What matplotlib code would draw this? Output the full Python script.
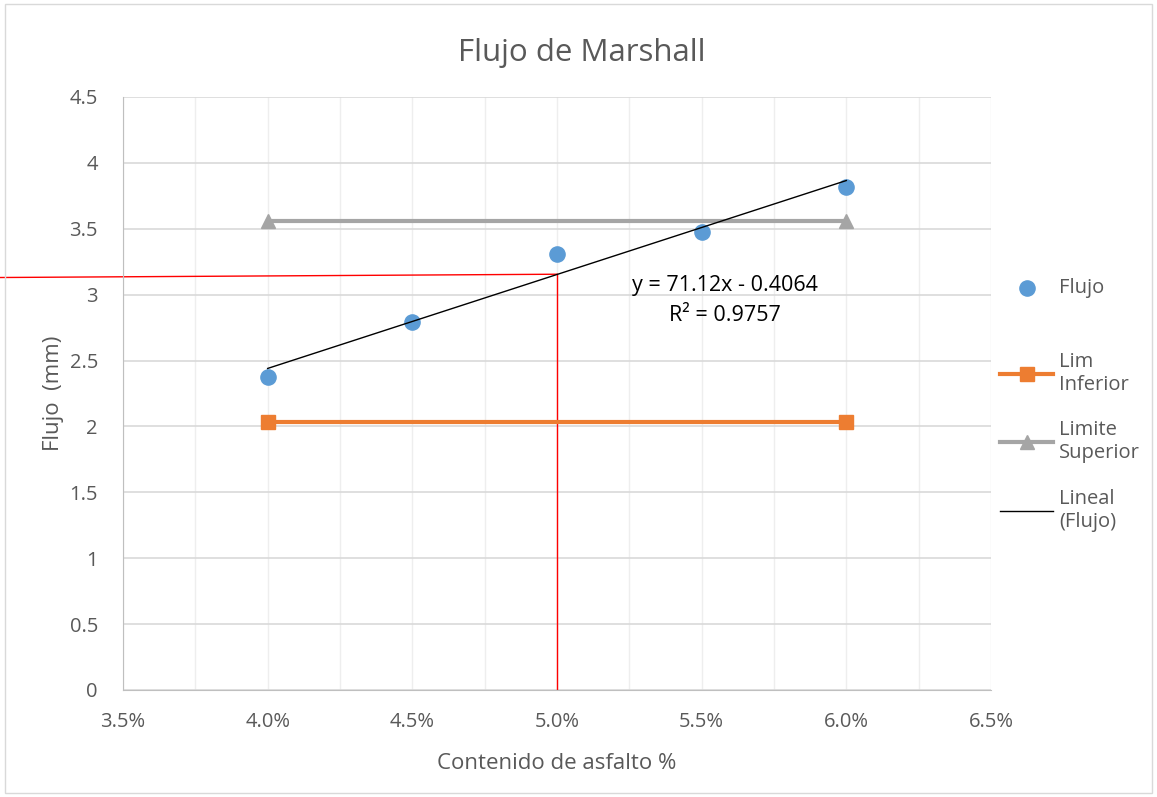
import numpy as np
import matplotlib.pyplot as plt
from matplotlib.patches import Rectangle
from matplotlib.ticker import FuncFormatter, MultipleLocator

plt.rcParams['font.family'] = ['Open Sans', 'DejaVu Sans']

# data
asfalto = [0.040, 0.045, 0.050, 0.055, 0.060]
flujo = [2.375, 2.79, 3.31, 3.475, 3.815]
lim_x = [0.040, 0.060]
lim_inf = [2.03, 2.03]
lim_sup = [3.56, 3.56]
x_opt = 0.050
guide_x = [0.0307, 0.050]
guide_y = [3.13, 3.155]
eq_text = "y = 71.12x - 0.4064"
r2_text = "R² = 0.9757"

txt_col = "#595959"

fig = plt.figure(figsize=(11.57, 7.97), dpi=100)
ax = fig.add_axes([0.1063, 0.1343, 0.7502, 0.744])

# linear trend (Lineal (Flujo))
p1, p0 = np.polyfit(asfalto, flujo, 1)
xt = np.array([asfalto[0], asfalto[-1]])

h1 = ax.scatter(asfalto, flujo, s=120, color="#5b9bd5", zorder=4, label="Flujo")
h2, = ax.plot(lim_x, lim_inf, color="#ed7d31", lw=3, marker="s", ms=10, zorder=3,
              label="Lim\nInferior")
h3, = ax.plot(lim_x, lim_sup, color="#a5a5a5", lw=3, marker="^", ms=10, zorder=3,
              label="Limite\nSuperior")
h4, = ax.plot(xt, p0 + p1 * xt, color="black", lw=1, zorder=5, label="Lineal\n(Flujo)")

# red guide lines
ax.plot([x_opt, x_opt], [0, p0 + p1 * x_opt], color="red", lw=1, zorder=2)
ax.plot(guide_x, guide_y, color="red", lw=1, zorder=2, clip_on=False)

ax.text(0.0558, 3.03, eq_text, fontsize=15.5, ha="center", color="black")
ax.text(0.0558, 2.80, r2_text, fontsize=15.5, ha="center", color="black")

ax.set_xlim(0.035, 0.065)
ax.set_ylim(0, 4.5)
ax.xaxis.set_major_locator(MultipleLocator(0.005))
ax.xaxis.set_minor_locator(MultipleLocator(0.0025))
ax.yaxis.set_major_locator(MultipleLocator(0.5))
ax.xaxis.set_major_formatter(FuncFormatter(lambda v, p: "%.1f%%" % (v * 100)))
ax.yaxis.set_major_formatter(FuncFormatter(lambda v, p: "%g" % v))
ax.grid(axis="y", which="major", color="#d9d9d9", lw=1.2)
ax.grid(axis="x", which="both", color="#eeeeee", lw=1)
ax.set_axisbelow(True)
for s in ["top", "right"]:
    ax.spines[s].set_visible(False)
ax.spines["left"].set_color("#bfbfbf")
ax.spines["bottom"].set_color("#bfbfbf")
ax.tick_params(which="both", length=0, labelsize=14.5, colors=txt_col)
ax.tick_params(axis="x", pad=16)
ax.tick_params(axis="y", pad=18)

ax.set_xlabel("Contenido de asfalto %", fontsize=16, color=txt_col, labelpad=15)
ax.set_ylabel("Flujo  (mm)", fontsize=16, color=txt_col, labelpad=4)
fig.text(0.503, 0.934, "Flujo de Marshall", fontsize=22.5, color=txt_col, ha="center", va="center")

leg1 = ax.legend(handles=[h1], loc="center left", bbox_to_anchor=(0.99, 0.678), frameon=False,
                 fontsize=14.5, handlelength=2.6, handletextpad=0.3, labelcolor=txt_col)
ax.add_artist(leg1)
ax.legend(handles=[h2, h3, h4], loc="upper left", bbox_to_anchor=(0.99, 0.60), frameon=False,
          fontsize=14.5, handlelength=2.6, labelspacing=1.25, handletextpad=0.3,
          labelcolor=txt_col)

fig.patches.append(Rectangle((0.004, 0.005), 0.992, 0.99, transform=fig.transFigure,
                             fill=False, edgecolor="#d9d9d9", lw=1))

plt.savefig("out.png", dpi=100)
plt.close()
